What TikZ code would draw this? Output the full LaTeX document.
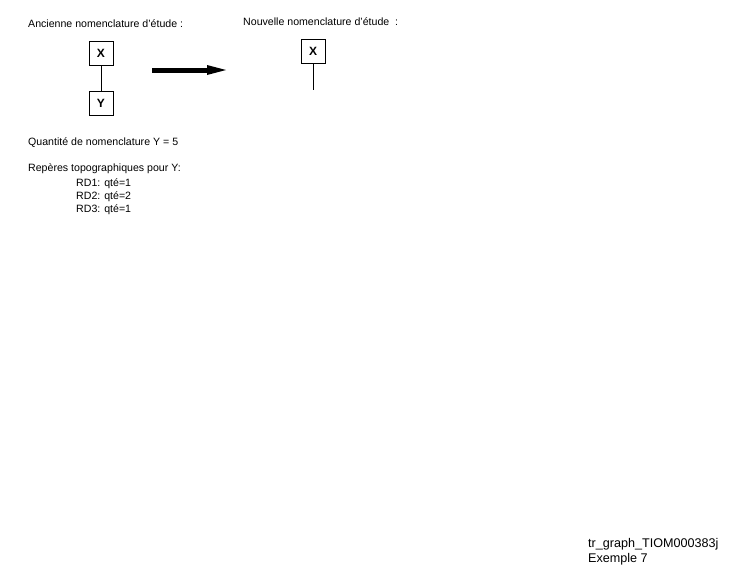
\documentclass[tikz,border=0pt]{standalone}
\usepackage{fontspec}
\setmainfont{Liberation Sans}
\begin{document}
\begin{tikzpicture}[x=1pt,y=-1pt,
  txt/.style={anchor=base west,inner sep=0pt,font=\fontsize{10.6}{12}\selectfont},
  bigtxt/.style={anchor=base west,inner sep=0pt,font=\fontsize{12.6}{14}\selectfont},
  itembox/.style={draw,line width=0.8pt,minimum width=24pt,minimum height=24pt,inner sep=0pt,font=\fontsize{12}{12}\selectfont\bfseries},
  link/.style={line width=0.8pt}]
\useasboundingbox (0,0) rectangle (746,571);
\fill[white] (0,0) rectangle (746,571);
\node[txt] (t1) at (28,27) {Ancienne nomenclature d'étude :};
\node[txt] (t2) at (243,25) {Nouvelle nomenclature d'étude~~:};
\node[itembox] (x1) at (101,53.5) {X};
\node[itembox] (y1) at (101,103) {Y};
\draw[link] (x1) -- (y1);
\node[itembox] (x2) at (313,51) {X};
\coordinate (x2end) at (313,90);
\draw[link] (x2.south) -- (x2end);
\coordinate (a1) at (152,70);
\coordinate (a3) at (226,70);
\fill (a1) ++(0,-2.5) rectangle ++(56,5);
\fill (207,65) -- (a3) -- (207,75) -- cycle;
\node[txt] (q) at (28,145) {Quantité de nomenclature Y = 5};
\node[txt] (r) at (28,171) {Repères topographiques pour Y:};
\node[txt] (rd1) at (76,186) {RD1: qté=1};
\node[txt] (rd2) at (76,199) {RD2: qté=2};
\node[txt] (rd3) at (76,212) {RD3: qté=1};
\node[bigtxt] (g) at (588,547) {tr\_graph\_TIOM000383j};
\node[bigtxt] (e) at (588,562) {Exemple 7};
\end{tikzpicture}
\end{document}
